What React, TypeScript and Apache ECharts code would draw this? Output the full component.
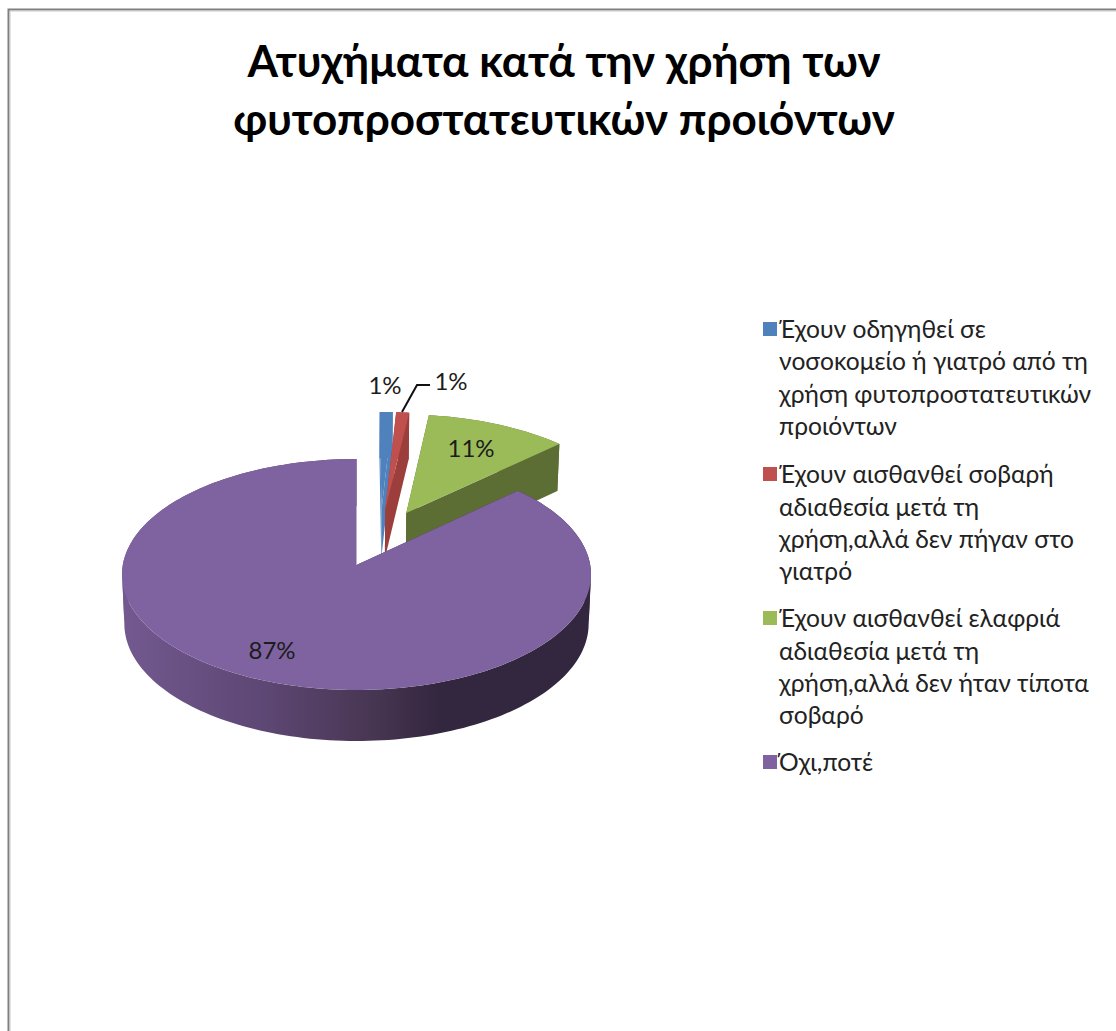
import React, { useEffect, useRef } from "react";
import * as echarts from "echarts";

const titleText = "Ατυχήματα κατά την χρήση των\nφυτοπροστατευτικών προιόντων";
const categories = [
  "Έχουν οδηγηθεί σε\nνοσοκομείο ή γιατρό από τη\nχρήση φυτοπροστατευτικών\nπροιόντων",
  "Έχουν αισθανθεί σοβαρή\nαδιαθεσία μετά τη\nχρήση,αλλά δεν πήγαν στο\nγιατρό",
  "Έχουν αισθανθεί ελαφριά\nαδιαθεσία μετά τη\nχρήση,αλλά δεν ήταν τίποτα\nσοβαρό",
  "Όχι,ποτέ",
];
const values = [1, 1, 11, 87];
const topColors = ["#4f81bd", "#c0504d", "#9bbb59", "#7f63a1"];
const wallColors = ["#4f81bd", "#9c3f3c", "#5c6e33", "#33263f"];
const labelPositions = [
  [385, 384],
  [451, 380],
  [471, 447],
  [272, 649],
];
const legendTops = [312, 457.5, 601.5, 745];
const legendMarkerTops = [322, 467, 611, 755];

const FONT = "Lato, 'Open Sans', 'Noto Sans', sans-serif";

// perspective of the pie plane
const X0 = 356.5;
const Y0 = 565;
const A = 233.7;
const B = 114.7;
const K = 0.082;
const EXPLODE = 0.26;

function project(X: number, Y: number) {
  const den = 1 + K * Y;
  return [X0 + (A * X) / den, Y0 - (B * Y) / den];
}
function lower(X: number, Y: number) {
  const p = project(X, Y);
  return [X0 + (p[0] - X0) * 0.99, p[1] + 49.2 - 1.87 * Y];
}

const total = values.reduce((a, b) => a + b, 0);
const fractions: number[][] = [];
values.reduce((acc, v) => {
  fractions.push([acc / total, (acc + v) / total]);
  return acc + v;
}, 0);
const midDir = (i: number) => {
  const a = ((fractions[i][0] + fractions[i][1]) / 2) * Math.PI * 2;
  return [Math.sin(a), Math.cos(a)];
};
const refDir = midDir(values.length - 1);

function sliceModel(i: number) {
  const d = midDir(i);
  const ox = EXPLODE * (d[0] - refDir[0]);
  const oy = EXPLODE * (d[1] - refDir[1]);
  const n = Math.max(4, Math.ceil((fractions[i][1] - fractions[i][0]) * 240));
  const arc: number[][] = [];
  for (let s = 0; s <= n; s++) {
    const f = fractions[i][0] + ((fractions[i][1] - fractions[i][0]) * s) / n;
    const a = f * Math.PI * 2;
    arc.push([ox + Math.sin(a), oy + Math.cos(a)]);
  }
  return { apex: [ox, oy], arc };
}

// pieces of the rim whose projected x runs one way only, so that each wall is a simple shape
function monotoneRuns(arc: number[][]) {
  const runs: number[][][] = [];
  let run = [arc[0]];
  let sign = 0;
  for (let j = 1; j < arc.length; j++) {
    const s = Math.sign(project(arc[j][0], arc[j][1])[0] - project(arc[j - 1][0], arc[j - 1][1])[0]);
    if (sign !== 0 && s !== sign) {
      runs.push(run);
      run = [arc[j - 1]];
    }
    sign = s;
    run.push(arc[j]);
  }
  runs.push(run);
  return runs;
}

const wallFill = (i: number) =>
  i === 3
    ? {
        type: "linear",
        x: 121,
        y: 0,
        x2: 590,
        y2: 0,
        global: true,
        colorStops: [
          { offset: 0, color: "#735990" },
          { offset: 0.32, color: "#5c4672" },
          { offset: 0.56, color: "#45344f" },
          { offset: 0.68, color: "#33263f" },
          { offset: 1, color: "#33263f" },
        ],
      }
    : wallColors[i];

function renderSlice(params: any, api: any) {
  const i = params.dataIndex;
  api.value(0);
  const { apex, arc } = sliceModel(i);
  const fill = wallFill(i);
  const children: any[] = [];
  const quad = (a: number[], b: number[]) => ({
    type: "polygon",
    shape: { points: [project(a[0], a[1]), project(b[0], b[1]), lower(b[0], b[1]), lower(a[0], a[1])] },
    style: { fill },
    silent: true,
  });
  children.push(quad(arc[0], apex));
  children.push(quad(apex, arc[arc.length - 1]));
  monotoneRuns(arc).forEach((run) => {
    const band = [
      ...run.map((p) => project(p[0], p[1])),
      ...run.slice().reverse().map((p) => lower(p[0], p[1])),
    ];
    children.push({ type: "polygon", shape: { points: band }, style: { fill }, silent: true });
  });
  children.push({
    type: "polygon",
    shape: { points: [project(apex[0], apex[1]), ...arc.map((p) => project(p[0], p[1]))] },
    style: { fill: topColors[i] },
    silent: true,
  });
  if (i === 1) {
    children.push({
      type: "polyline",
      shape: { points: [[402, 412], [417, 385], [430, 385]] },
      style: { stroke: "#111", lineWidth: 2, fill: "none" },
      silent: true,
    });
  }
  return { type: "group", children };
}

function renderLabel(params: any, api: any) {
  const i = params.dataIndex;
  return {
    type: "text",
    x: labelPositions[i][0],
    y: labelPositions[i][1],
    style: {
      text: `${api.value(0)}%`,
      fill: "#1c1c1c",
      font: `24px ${FONT}`,
      align: "center",
      verticalAlign: "middle",
    },
    silent: true,
  };
}

export default function App() {
  const ref = useRef<HTMLDivElement>(null);
  useEffect(() => {
    const chart = echarts.init(ref.current!, undefined, { renderer: "svg" });
    const legendGraphics: any[] = [];
    categories.forEach((c, i) => {
      legendGraphics.push({
        type: "rect",
        shape: { x: 763, y: legendMarkerTops[i], width: 14, height: 14 },
        style: { fill: topColors[i] },
        silent: true,
      });
      legendGraphics.push({
        type: "text",
        x: 779,
        y: legendTops[i],
        style: { text: c, fill: "#222", font: `24.6px ${FONT}`, lineHeight: 32.4 },
        silent: true,
      });
    });
    chart.setOption({
      animation: false,
      backgroundColor: "#ffffff",
      title: {
        text: titleText,
        left: 559,
        top: 25.5,
        textAlign: "center",
        textStyle: { fontFamily: FONT, fontSize: 44, fontWeight: "bold", color: "#000", lineHeight: 58 },
      },
      graphic: [
        {
          type: "rect",
          shape: { x: 8.5, y: 9.5, width: 1300, height: 1300 },
          style: { fill: "none", stroke: "#7f7f7f", lineWidth: 2 },
          silent: true,
        },
        {
          type: "rect",
          shape: { x: 10, y: 11, width: 1300, height: 1300 },
          style: { fill: "none", stroke: "#c8c8c8", lineWidth: 1 },
          silent: true,
        },
        ...legendGraphics,
      ],
      series: [
        { type: "custom", coordinateSystem: "none", data: values.map((v) => [v]), renderItem: renderSlice, silent: true },
        { type: "custom", coordinateSystem: "none", data: values.map((v) => [v]), renderItem: renderLabel, silent: true },
      ],
    });
    return () => chart.dispose();
  }, []);
  return <div ref={ref} style={{ position: "fixed", left: 0, top: 0, width: 1116, height: 1031 }} />;
}
